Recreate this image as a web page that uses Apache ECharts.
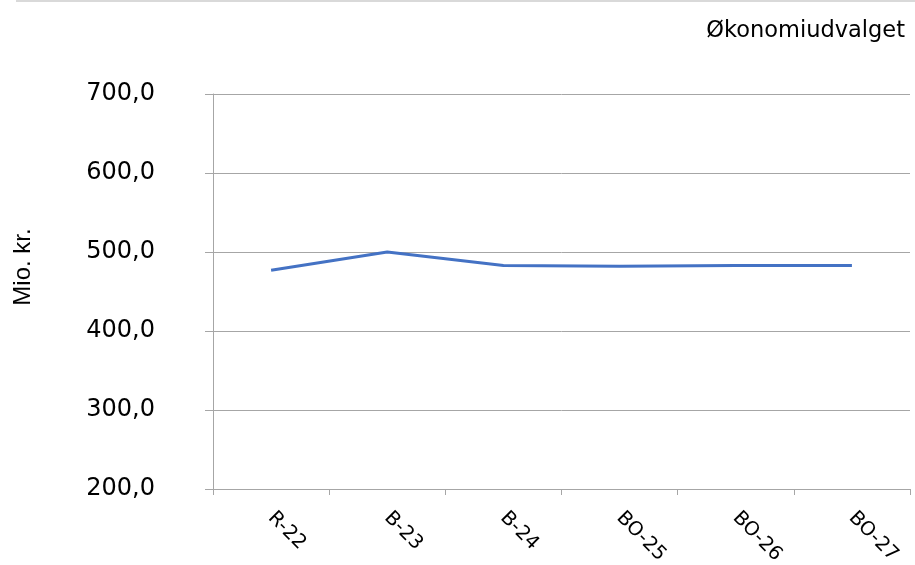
<!DOCTYPE html>
<html>
<head>
<meta charset="utf-8">
<script src="https://cdn.jsdelivr.net/npm/echarts@6/dist/echarts.min.js"></script>
<style>
    html, body { margin: 0; padding: 0; background: #fff; }
    #chart { width: 915px; height: 565px; }
</style>
</head>
<body>
<div id="chart"></div>
<script>
// data
const categories = ['R-22', 'B-23', 'B-24', 'BO-25', 'BO-26', 'BO-27'];
const values = [477, 500, 483, 482, 483, 483];
const titleText = 'Økonomiudvalget';
const yName = 'Mio. kr.';

const chart = echarts.init(document.getElementById('chart'));

const option = {
    animation: false,
    title: {
        text: titleText,
        right: 5,
        top: 15,
        textStyle: { fontFamily: 'DejaVu Sans', fontSize: 22.5, fontWeight: 'normal', color: '#000' }
    },
    graphic: [
        // thin line at top of picture
        {
            type: 'line',
            shape: { x1: 16, y1: 1, x2: 915, y2: 1 },
            style: { stroke: '#d9d9d9', lineWidth: 2 }
        },
        // y axis name
        {
            type: 'text',
            x: 23,
            y: 267,
            rotation: Math.PI / 2,
            style: {
                text: yName,
                font: '24px "Liberation Sans"',
                fill: '#000',
                align: 'center',
                verticalAlign: 'middle'
            }
        }
    ],
    grid: { left: 213, right: 5, top: 94, bottom: 76, outerBoundsMode: 'none' },
    xAxis: {
        type: 'category',
        data: categories,
        boundaryGap: true,
        axisLine: { lineStyle: { color: '#a6a6a6', width: 1 } },
        axisTick: { show: true, length: 6, lineStyle: { color: '#a6a6a6' } },
        axisLabel: {
            rotate: -45,
            margin: 26,
            fontFamily: 'DejaVu Sans',
            fontSize: 19.5,
            color: '#000'
        }
    },
    yAxis: {
        type: 'value',
        min: 200,
        max: 700,
        interval: 100,
        axisLine: { show: true, lineStyle: { color: '#a6a6a6', width: 1 } },
        axisTick: { show: true, length: 8, lineStyle: { color: '#a6a6a6' } },
        splitLine: { lineStyle: { color: '#a6a6a6', width: 1 } },
        axisLabel: {
            margin: 58,
            align: 'right',
            fontFamily: 'DejaVu Sans',
            fontSize: 24,
            color: '#000',
            formatter: v => v.toFixed(1).replace('.', ',')
        }
    },
    series: [{
        type: 'line',
        data: values,
        symbol: 'none',
        lineStyle: { color: '#4472c4', width: 3 },
        itemStyle: { color: '#4472c4' }
    }]
};

chart.setOption(option);
</script>
</body>
</html>
